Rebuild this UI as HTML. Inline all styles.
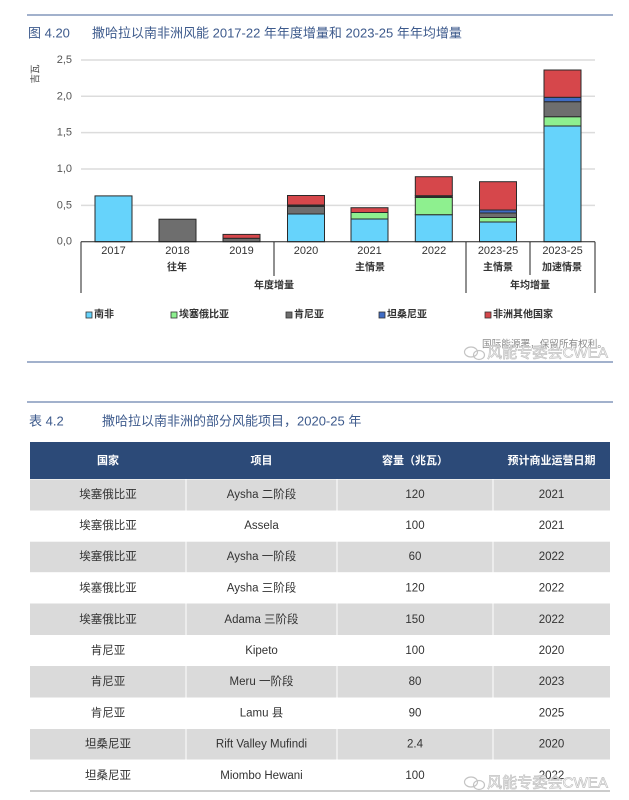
<!DOCTYPE html>
<html>
<head>
<meta charset="utf-8">
<style>
html,body{margin:0;padding:0;background:#fff;}
body{width:629px;height:800px;overflow:hidden;}
svg{display:block;}
text{font-family:"Liberation Sans","Noto Sans CJK SC",sans-serif;}
.cjk{font-family:"Liberation Sans","Noto Sans CJK SC",sans-serif;}
</style>
</head>
<body>
<svg width="629" height="800" viewBox="0 0 629 800" xmlns="http://www.w3.org/2000/svg">
  <!-- top rule -->
  <line x1="27" y1="15" x2="613" y2="15" stroke="#8497bb" stroke-width="1.5"/>
  <!-- figure title -->
  <text x="28" y="33" font-size="13" fill="#3d5a8c" dominant-baseline="central" class="cjk">图 4.20</text>
  <text x="92" y="33" font-size="13" fill="#3d5a8c" dominant-baseline="central" class="cjk">撒哈拉以南非洲风能 2017-22 年年度增量和 2023-25 年年均增量</text>

  <!-- gridlines -->
  <g stroke="#dcdcdc" stroke-width="1.5">
    <line x1="81" y1="60" x2="595" y2="60"/>
    <line x1="81" y1="96.3" x2="595" y2="96.3"/>
    <line x1="81" y1="132.6" x2="595" y2="132.6"/>
    <line x1="81" y1="169" x2="595" y2="169"/>
    <line x1="81" y1="205.4" x2="595" y2="205.4"/>
  </g>
  <!-- y tick labels -->
  <g font-size="11" fill="#555" text-anchor="end" dominant-baseline="central">
    <text x="72" y="60">2,5</text>
    <text x="72" y="96.3">2,0</text>
    <text x="72" y="132.6">1,5</text>
    <text x="72" y="169">1,0</text>
    <text x="72" y="205.4">0,5</text>
    <text x="72" y="241.7">0,0</text>
  </g>
  <!-- y axis title -->
  <text x="0" y="0" font-size="9.5" fill="#444" text-anchor="middle" dominant-baseline="central" transform="translate(36,74) rotate(-90)" class="cjk">吉瓦</text>

  <!-- bars -->
  <g stroke="#2a2a2a" stroke-width="1">
    <rect x="95" y="195.9" width="37" height="45.8" fill="#66d3fb"/>
    <rect x="159" y="219.2" width="37" height="22.5" fill="#6e6e6e"/>
    <rect x="223" y="238.3" width="37" height="3.4" fill="#6e6e6e"/>
    <rect x="223" y="234.4" width="37" height="3.9" fill="#d6474b"/>
    <rect x="287.5" y="214" width="37" height="27.7" fill="#66d3fb"/>
    <rect x="287.5" y="206.5" width="37" height="7.5" fill="#6e6e6e"/>
    <rect x="287.5" y="205" width="37" height="1.5" fill="#2b2b2b"/>
    <rect x="287.5" y="195.5" width="37" height="9.5" fill="#d6474b"/>
    <rect x="351" y="219" width="37" height="22.7" fill="#66d3fb"/>
    <rect x="351" y="212.5" width="37" height="6.5" fill="#8ef08f"/>
    <rect x="351" y="207.7" width="37" height="4.8" fill="#d6474b"/>
    <rect x="415.3" y="214.7" width="37" height="27" fill="#66d3fb"/>
    <rect x="415.3" y="197.5" width="37" height="17.2" fill="#8ef08f"/>
    <rect x="415.3" y="195.7" width="37" height="1.8" fill="#2b2b2b"/>
    <rect x="415.3" y="176.7" width="37" height="19" fill="#d6474b"/>
    <rect x="479.5" y="222" width="37" height="19.7" fill="#66d3fb"/>
    <rect x="479.5" y="217.5" width="37" height="4.5" fill="#8ef08f"/>
    <rect x="479.5" y="213" width="37" height="4.5" fill="#6e6e6e"/>
    <rect x="479.5" y="210" width="37" height="3" fill="#3f6cc4"/>
    <rect x="479.5" y="181.7" width="37" height="28.3" fill="#d6474b"/>
    <rect x="544" y="126" width="37" height="115.7" fill="#66d3fb"/>
    <rect x="544" y="116.7" width="37" height="9.3" fill="#8ef08f"/>
    <rect x="544" y="101.7" width="37" height="15" fill="#6e6e6e"/>
    <rect x="544" y="97.3" width="37" height="4.4" fill="#3f6cc4"/>
    <rect x="544" y="70" width="37" height="27.3" fill="#d6474b"/>
  </g>

  <!-- axis & category separators -->
  <g stroke="#222" stroke-width="1">
    <line x1="81" y1="241.7" x2="595" y2="241.7"/>
    <line x1="81" y1="241.7" x2="81" y2="293"/>
    <line x1="274" y1="241.7" x2="274" y2="276"/>
    <line x1="466" y1="241.7" x2="466" y2="293"/>
    <line x1="530" y1="241.7" x2="530" y2="275"/>
    <line x1="595" y1="241.7" x2="595" y2="293"/>
  </g>

  <!-- category labels -->
  <g font-size="11" fill="#333" text-anchor="middle" dominant-baseline="central">
    <text x="113.5" y="251">2017</text>
    <text x="177.5" y="251">2018</text>
    <text x="241.5" y="251">2019</text>
    <text x="306" y="251">2020</text>
    <text x="369.5" y="251">2021</text>
    <text x="434" y="251">2022</text>
    <text x="498" y="251">2023-25</text>
    <text x="562.5" y="251">2023-25</text>
  </g>
  <g font-size="10" fill="#333" text-anchor="middle" dominant-baseline="central" class="cjk" font-weight="bold">
    <text x="177" y="268">往年</text>
    <text x="370" y="268">主情景</text>
    <text x="498" y="268">主情景</text>
    <text x="562" y="268">加速情景</text>
    <text x="274" y="286">年度增量</text>
    <text x="530" y="286">年均增量</text>
  </g>

  <!-- legend -->
  <g stroke="#333" stroke-width="0.8">
    <rect x="86" y="312" width="6" height="6" fill="#66d3fb"/>
    <rect x="171" y="312" width="6" height="6" fill="#8ef08f"/>
    <rect x="286" y="312" width="6" height="6" fill="#6e6e6e"/>
    <rect x="379" y="312" width="6" height="6" fill="#3f6cc4"/>
    <rect x="485" y="312" width="6" height="6" fill="#d6474b"/>
  </g>
  <g font-size="10" fill="#333" dominant-baseline="central" class="cjk" font-weight="bold">
    <text x="94" y="315">南非</text>
    <text x="179" y="315">埃塞俄比亚</text>
    <text x="294" y="315">肯尼亚</text>
    <text x="387" y="315">坦桑尼亚</text>
    <text x="493" y="315">非洲其他国家</text>
  </g>

  <!-- watermark 1 -->
  <text x="482" y="345" font-size="10" fill="#8a8a8a" dominant-baseline="central" class="cjk" textLength="125" lengthAdjust="spacingAndGlyphs">国际能源署，保留所有权利。</text>
  <g fill="none" stroke="#c4c4c4" stroke-width="1.2">
    <ellipse cx="471" cy="352" rx="6.5" ry="5"/>
    <ellipse cx="479" cy="355" rx="5.5" ry="4.5"/>
  </g>
  <text x="487" y="353" font-size="15" fill="#fff" stroke="#c2c2c2" stroke-width="0.7" dominant-baseline="central" class="cjk" textLength="121" lengthAdjust="spacingAndGlyphs">风能专委会CWEA</text>

  <!-- rules -->
  <line x1="27" y1="362" x2="613" y2="362" stroke="#8497bb" stroke-width="1.5"/>
  <line x1="27" y1="402" x2="613" y2="402" stroke="#8497bb" stroke-width="1.5"/>

  <!-- table title -->
  <text x="29" y="421" font-size="13" fill="#3d5a8c" dominant-baseline="central" class="cjk">表 4.2</text>
  <text x="102" y="421" font-size="13" fill="#3d5a8c" dominant-baseline="central" class="cjk">撒哈拉以南非洲的部分风能项目，2020-25 年</text>

  <!-- table header -->
  <rect x="30" y="442" width="580" height="37" fill="#2c4a78"/>
  <g font-size="11" fill="#fff" font-weight="bold" text-anchor="middle" dominant-baseline="central" class="cjk">
    <text x="108" y="461">国家</text>
    <text x="261.5" y="461">项目</text>
    <text x="415" y="461">容量（兆瓦）</text>
    <text x="551.5" y="461">预计商业运营日期</text>
  </g>

  <!-- striped rows -->
  <g fill="#dadada">
    <rect x="30" y="479.5" width="580" height="31"/>
    <rect x="30" y="541.7" width="580" height="30.5"/>
    <rect x="30" y="603.5" width="580" height="31.5"/>
    <rect x="30" y="666" width="580" height="31.5"/>
    <rect x="30" y="729" width="580" height="30.5"/>
  </g>
  <g stroke="#fff" stroke-width="1">
    <line x1="186" y1="479" x2="186" y2="791"/>
    <line x1="337" y1="479" x2="337" y2="791"/>
    <line x1="493" y1="479" x2="493" y2="791"/>
  </g>
  <line x1="30" y1="791" x2="610" y2="791" stroke="#999" stroke-width="1"/>

  <g font-size="11.5" fill="#333" text-anchor="middle" dominant-baseline="central" class="cjk">
    <text x="108" y="495">埃塞俄比亚</text><text x="261.5" y="495">Aysha 二阶段</text><text x="415" y="495">120</text><text x="551.5" y="495">2021</text>
    <text x="108" y="526">埃塞俄比亚</text><text x="261.5" y="526">Assela</text><text x="415" y="526">100</text><text x="551.5" y="526">2021</text>
    <text x="108" y="557">埃塞俄比亚</text><text x="261.5" y="557">Aysha 一阶段</text><text x="415" y="557">60</text><text x="551.5" y="557">2022</text>
    <text x="108" y="588.5">埃塞俄比亚</text><text x="261.5" y="588.5">Aysha 三阶段</text><text x="415" y="588.5">120</text><text x="551.5" y="588.5">2022</text>
    <text x="108" y="620">埃塞俄比亚</text><text x="261.5" y="620">Adama 三阶段</text><text x="415" y="620">150</text><text x="551.5" y="620">2022</text>
    <text x="108" y="651">肯尼亚</text><text x="261.5" y="651">Kipeto</text><text x="415" y="651">100</text><text x="551.5" y="651">2020</text>
    <text x="108" y="682">肯尼亚</text><text x="261.5" y="682">Meru 一阶段</text><text x="415" y="682">80</text><text x="551.5" y="682">2023</text>
    <text x="108" y="713.5">肯尼亚</text><text x="261.5" y="713.5">Lamu 县</text><text x="415" y="713.5">90</text><text x="551.5" y="713.5">2025</text>
    <text x="108" y="744.5">坦桑尼亚</text><text x="261.5" y="744.5">Rift Valley Mufindi</text><text x="415" y="744.5">2.4</text><text x="551.5" y="744.5">2020</text>
    <text x="108" y="776">坦桑尼亚</text><text x="261.5" y="776">Miombo Hewani</text><text x="415" y="776">100</text><text x="551.5" y="776">2022</text>
  </g>

  <!-- watermark 2 -->
  <g fill="none" stroke="#c4c4c4" stroke-width="1.2">
    <ellipse cx="471" cy="782" rx="6.5" ry="5"/>
    <ellipse cx="479" cy="785" rx="5.5" ry="4.5"/>
  </g>
  <text x="487" y="783" font-size="15" fill="#fff" fill-opacity="0.6" stroke="#c2c2c2" stroke-width="0.7" dominant-baseline="central" class="cjk" textLength="121" lengthAdjust="spacingAndGlyphs">风能专委会CWEA</text>
</svg>
</body>
</html>
